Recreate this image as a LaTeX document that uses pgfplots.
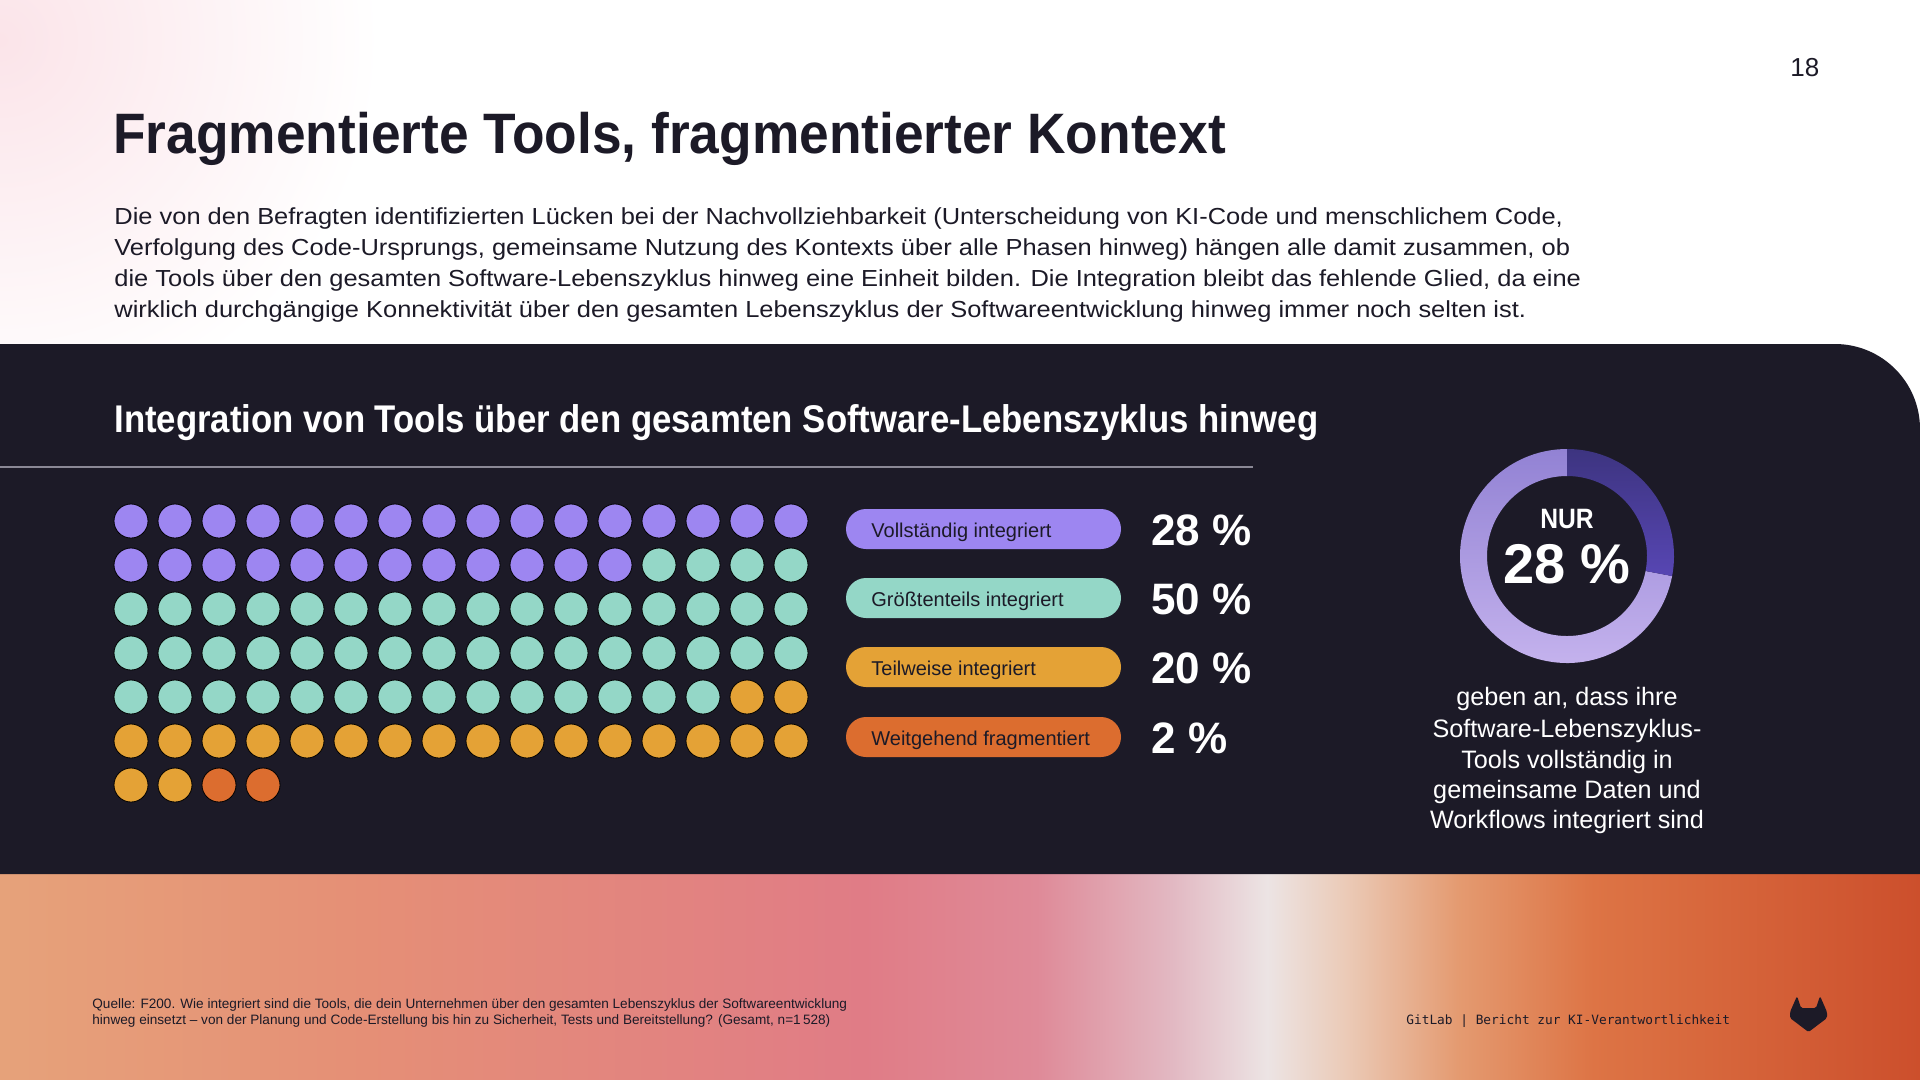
\documentclass[border=0pt]{standalone}
\usepackage{pgfplots}
\pgfplotsset{compat=1.18}
\usetikzlibrary{calc}
\usepackage{fontspec}
\setmainfont{Liberation Sans}
\newfontfamily\titlefont[FakeStretch=0.935]{Liberation Sans}
\newfontfamily\subfont[FakeStretch=0.90]{Liberation Sans}
\newfontfamily\bodyfont[FakeStretch=1.097]{Liberation Sans}
\newfontfamily\condfont[FakeStretch=0.88]{Liberation Sans}
\newfontfamily\monofont{DejaVu Sans Mono}

\definecolor{bgdark}{HTML}{1C1A27}
\definecolor{purp}{HTML}{9D86F1}
\definecolor{teal}{HTML}{94D7C7}
\definecolor{oran}{HTML}{E4A236}
\definecolor{redo}{HTML}{DC6D2F}
\definecolor{linegray}{HTML}{8A8895}
\definecolor{dkA}{HTML}{3D3480}
\definecolor{dkB}{HTML}{5746B3}
\definecolor{ltA}{HTML}{9282D4}
\definecolor{ltB}{HTML}{C6B4EE}
\definecolor{glow}{HTML}{FBE4E9}
\definecolor{f0}{HTML}{E6A27A}
\definecolor{f1}{HTML}{E58F76}
\definecolor{f2}{HTML}{E07C86}
\definecolor{f3}{HTML}{DF8A98}
\definecolor{f4}{HTML}{E2B8C2}
\definecolor{f5}{HTML}{ECE4E4}
\definecolor{f6}{HTML}{EBCBB8}
\definecolor{f7}{HTML}{E49A70}
\definecolor{f8}{HTML}{DD7445}
\definecolor{f9}{HTML}{CC4F2C}
% TikZ maps the path onto the 25bp..75bp part of the shading
\pgfdeclarehorizontalshading{footband}{100bp}{color(0bp)=(f0); color(25bp)=(f0); color(34.5bp)=(f1); color(47.5bp)=(f2); color(52bp)=(f3); color(55.5bp)=(f4); color(58bp)=(f5); color(60bp)=(f6); color(63bp)=(f7); color(66.5bp)=(f8); color(75bp)=(f9); color(100bp)=(f9)}

\begin{document}
\begin{tikzpicture}
\begin{axis}[
  width=960pt, height=540pt, scale only axis,
  xmin=0, xmax=1920, ymin=0, ymax=1080, y dir=reverse,
  hide axis, clip=false, anchor=north west, at={(0,0)}]

% page background
\path (axis cs:0,0) coordinate (TL);
\path (axis cs:1920,1080) coordinate (BR);
\fill[white] (TL) rectangle (BR);
\begin{scope}
  \clip (axis cs:0,0) rectangle (axis cs:1920,344);
  \shade[inner color=glow, outer color=white] (axis cs:0,40) circle[radius=190pt];
\end{scope}
\shade[shading=footband] (axis cs:0,870) rectangle (axis cs:1920,1080);

% dark panel
\fill[bgdark] (axis cs:0,344) -- (axis cs:1835,344) arc[start angle=90, end angle=0, radius=42.5pt] -- (axis cs:1920,874) -- (axis cs:0,874) -- cycle;

% texts top
\node[anchor=base west, inner sep=0, text=bgdark, font=\fontsize{13}{15}\selectfont] at (axis cs:1790,76) {18};
\node[anchor=base west, inner sep=0, text=bgdark, font=\titlefont\bfseries\fontsize{28.5}{34}\selectfont] at (axis cs:113,153) {Fragmentierte Tools, fragmentierter Kontext};
\begin{scope}[every node/.style={anchor=base west, inner sep=0, text=bgdark, font=\bodyfont\fontsize{11.6}{14}\selectfont}]
\node at (axis cs:114,224) {Die von den Befragten identifizierten Lücken bei der Nachvollziehbarkeit (Unterscheidung von KI-Code und menschlichem Code,};
\node at (axis cs:114,255) {Verfolgung des Code-Ursprungs, gemeinsame Nutzung des Kontexts über alle Phasen hinweg) hängen alle damit zusammen, ob};
\node at (axis cs:114,286) {die Tools über den gesamten Software-Lebenszyklus hinweg eine Einheit bilden. Die Integration bleibt das fehlende Glied, da eine};
\node at (axis cs:114,317) {wirklich durchgängige Konnektivität über den gesamten Lebenszyklus der Softwareentwicklung hinweg immer noch selten ist.};
\end{scope}

% panel title and rule
\node[anchor=base west, inner sep=0, text=white, font=\subfont\bfseries\fontsize{19.3}{22}\selectfont] at (axis cs:114,432) {Integration von Tools über den gesamten Software-Lebenszyklus hinweg};
\draw[linegray, line width=1pt] (axis cs:0,467) -- (axis cs:1253,467);

% legend pills
\fill[purp, rounded corners=10pt] (axis cs:846,509) rectangle (axis cs:1121,549);
\fill[teal, rounded corners=10pt] (axis cs:846,578) rectangle (axis cs:1121,618);
\fill[oran, rounded corners=10pt] (axis cs:846,647) rectangle (axis cs:1121,687);
\fill[redo, rounded corners=10pt] (axis cs:846,717) rectangle (axis cs:1121,757);
\begin{scope}[every node/.style={anchor=base west, inner sep=0, text=bgdark, font=\fontsize{10}{12}\selectfont}]
\node at (axis cs:871,537) {Vollständig integriert};
\node at (axis cs:871,606) {Größtenteils integriert};
\node at (axis cs:871,675) {Teilweise integriert};
\node at (axis cs:871,745) {Weitgehend fragmentiert};
\end{scope}
\begin{scope}[every node/.style={anchor=base west, inner sep=0, text=white, font=\bfseries\fontsize{22}{26}\selectfont}]
\node at (axis cs:1151,545) {28 \%};
\node at (axis cs:1151,614) {50 \%};
\node at (axis cs:1151,683) {20 \%};
\node at (axis cs:1151,753) {2 \%};
\end{scope}

% waffle: 100 dots (28 / 50 / 20 / 2)
\addplot[only marks, mark=*, mark size=8.5pt, mark options={fill=purp, draw=none}] coordinates {
(131,521) (175,521) (219,521) (263,521) (307,521) (351,521) (395,521) (439,521) (483,521) (527,521) (571,521) (615,521) (659,521) (703,521) (747,521) (791,521)
(131,565) (175,565) (219,565) (263,565) (307,565) (351,565) (395,565) (439,565) (483,565) (527,565) (571,565) (615,565)};
\addplot[only marks, mark=*, mark size=8.5pt, mark options={fill=teal, draw=none}] coordinates {
(659,565) (703,565) (747,565) (791,565)
(131,609) (175,609) (219,609) (263,609) (307,609) (351,609) (395,609) (439,609) (483,609) (527,609) (571,609) (615,609) (659,609) (703,609) (747,609) (791,609)
(131,653) (175,653) (219,653) (263,653) (307,653) (351,653) (395,653) (439,653) (483,653) (527,653) (571,653) (615,653) (659,653) (703,653) (747,653) (791,653)
(131,697) (175,697) (219,697) (263,697) (307,697) (351,697) (395,697) (439,697) (483,697) (527,697) (571,697) (615,697) (659,697) (703,697)};
\addplot[only marks, mark=*, mark size=8.5pt, mark options={fill=oran, draw=none}] coordinates {
(747,697) (791,697)
(131,741) (175,741) (219,741) (263,741) (307,741) (351,741) (395,741) (439,741) (483,741) (527,741) (571,741) (615,741) (659,741) (703,741) (747,741) (791,741)
(131,785) (175,785)};
\addplot[only marks, mark=*, mark size=8.5pt, mark options={fill=redo, draw=none}] coordinates {
(219,785) (263,785)};

% donut 28 %
\path (axis cs:1567,556) coordinate (C);
\shade[top color=ltA, bottom color=ltB] ($(C)+(-10.8:53.5pt)$) arc[start angle=-10.8, end angle=-270, radius=53.5pt] -- ($(C)+(90:40pt)$) arc[start angle=90, end angle=349.2, radius=40pt] -- cycle;
\shade[top color=dkA, bottom color=dkB] ($(C)+(90:53.5pt)$) arc[start angle=90, end angle=-10.8, radius=53.5pt] -- ($(C)+(-10.8:40pt)$) arc[start angle=-10.8, end angle=90, radius=40pt] -- cycle;
\node[anchor=base, inner sep=0, text=white, font=\condfont\bfseries\fontsize{14}{16}\selectfont] at (axis cs:1567,528) {NUR};
\node[anchor=base, inner sep=0, text=white, font=\bfseries\fontsize{28}{32}\selectfont] at (axis cs:1567,583) {28 \%};
\begin{scope}[every node/.style={anchor=base, inner sep=0, text=white, font=\fontsize{12.6}{15}\selectfont}]
\node at (axis cs:1567,705) {geben an, dass ihre};
\node at (axis cs:1567,737) {Software-Lebenszyklus-};
\node at (axis cs:1567,768) {Tools vollständig in};
\node at (axis cs:1567,798) {gemeinsame Daten und};
\node at (axis cs:1567,828) {Workflows integriert sind};
\end{scope}

% footer
\begin{scope}[every node/.style={anchor=base west, inner sep=0, text=bgdark, font=\fontsize{6.8}{8}\selectfont}]
\node at (axis cs:92,1008) {Quelle: F200. Wie integriert sind die Tools, die dein Unternehmen über den gesamten Lebenszyklus der Softwareentwicklung};
\node at (axis cs:92,1024) {hinweg einsetzt – von der Planung und Code-Erstellung bis hin zu Sicherheit, Tests und Bereitstellung? (Gesamt, n=1\,528)};
\end{scope}
\node[anchor=base west, inner sep=0, text=bgdark, font=\monofont\fontsize{6.4}{8}\selectfont] at (axis cs:1406,1024) {GitLab | Bericht zur KI-Verantwortlichkeit};
\fill[bgdark, rounded corners=0.8pt] (axis cs:1790,1012) -- (axis cs:1797,996) -- (axis cs:1801,1008) -- (axis cs:1816,1008) -- (axis cs:1820,996) -- (axis cs:1827,1012) -- (axis cs:1827,1018) -- (axis cs:1808.5,1032) -- (axis cs:1790,1018) -- cycle;
\end{axis}
\pgfresetboundingbox
\useasboundingbox (TL) rectangle (BR);
\end{tikzpicture}
\end{document}
